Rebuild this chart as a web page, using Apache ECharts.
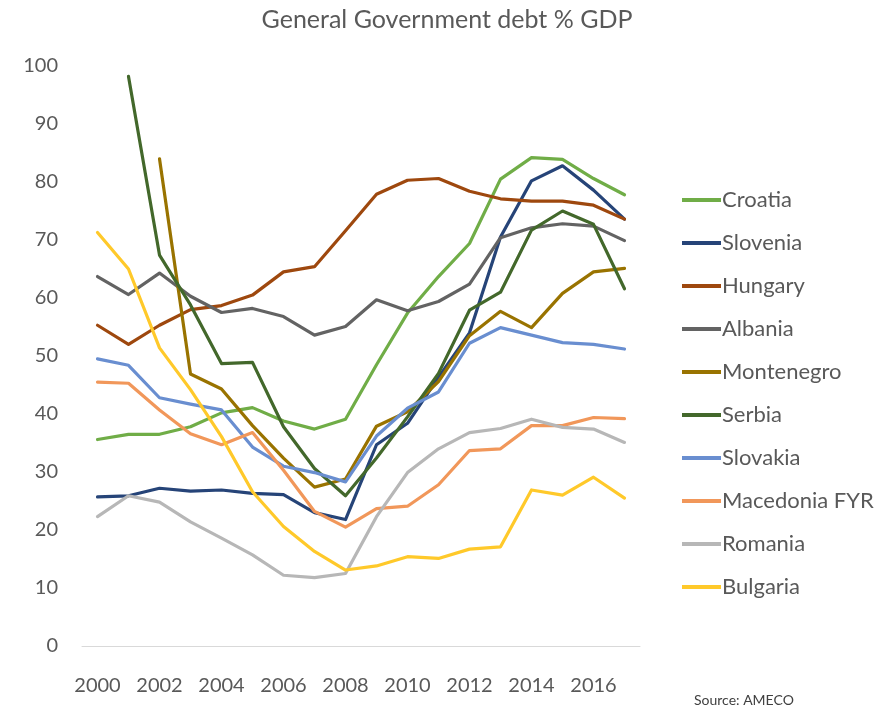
<!DOCTYPE html>
<html>
<head>
<meta charset="utf-8">
<script src="https://cdn.jsdelivr.net/npm/echarts@6/dist/echarts.min.js"></script>
<style>html,body{margin:0;padding:0;background:#fff}#c{width:894px;height:707px}</style>
</head>
<body>
<div id="c"></div>
<script>
var years = ['2000','2001','2002','2003','2004','2005','2006','2007','2008','2009','2010','2011','2012','2013','2014','2015','2016','2017'];
var croatia    = [35.6,36.5,36.5,37.8,40.2,41.1,38.8,37.4,39.1,48.5,57.4,63.7,69.4,80.5,84.2,83.9,80.6,77.8];
var slovenia   = [25.7,25.9,27.2,26.7,26.9,26.3,26.1,23.0,21.8,34.7,38.4,46.3,54.0,70.5,80.2,82.8,78.6,73.6];
var hungary    = [55.3,52.0,55.3,58.0,58.7,60.5,64.5,65.4,71.6,77.9,80.3,80.6,78.4,77.1,76.7,76.7,76.0,73.6];
var albania    = [63.7,60.6,64.3,60.3,57.5,58.2,56.8,53.6,55.1,59.7,57.8,59.4,62.4,70.4,72.1,72.8,72.4,69.9];
var montenegro = [null,null,84.0,46.9,44.3,38.0,32.4,27.4,28.8,37.9,40.4,45.6,53.5,57.7,54.9,60.8,64.5,65.1];
var serbia     = [null,98.2,67.4,58.8,48.7,48.9,37.8,30.6,25.9,32.4,39.5,47.0,57.9,61.0,71.7,75.0,72.7,61.6];
var slovakia   = [49.5,48.4,42.8,41.7,40.7,34.3,31.0,29.9,28.3,36.2,41.0,43.8,52.2,54.9,53.6,52.3,52.0,51.2];
var macedonia  = [45.5,45.3,40.7,36.6,34.7,36.8,30.3,23.2,20.5,23.7,24.1,27.8,33.7,34.0,38.0,38.0,39.4,39.2];
var romania    = [22.3,25.9,24.8,21.4,18.6,15.7,12.2,11.8,12.5,22.3,29.9,34.0,36.8,37.5,39.1,37.7,37.4,35.1];
var bulgaria   = [71.3,65.0,51.4,44.2,36.1,26.6,20.6,16.3,13.1,13.8,15.4,15.1,16.7,17.1,26.9,26.0,29.1,25.5];

var names  = ['Croatia','Slovenia','Hungary','Albania','Montenegro','Serbia','Slovakia','Macedonia FYR','Romania','Bulgaria'];
var values = [croatia,slovenia,hungary,albania,montenegro,serbia,slovakia,macedonia,romania,bulgaria];
var colors = ['#70AD47','#264478','#9E480E','#636363','#997300','#43682B','#698ED0','#F1975A','#B7B7B7','#FFC92A'];

var FONT = 'Lato';
var chart = echarts.init(document.getElementById('c'), null, {renderer:'canvas'});
var series = names.map(function(n,i){
  return {name:n,type:'line',data:values[i],symbol:'none',connectNulls:false,
    lineStyle:{width:3.2,color:colors[i],cap:'round',join:'round'},itemStyle:{color:colors[i]},z:2+i*0.01};
});
chart.setOption({
  animation:false,
  backgroundColor:'#ffffff',
  title:[{text:'General Government debt % GDP',left:'center',top:2,
    textStyle:{fontFamily:FONT,fontSize:25,fontWeight:'normal',color:'#595959'}},
    {text:'Source: AMECO',left:689,top:688,textStyle:{fontFamily:FONT,fontSize:14,fontWeight:'normal',color:'#404040'}}],
  legend:{orient:'vertical',left:677,top:183,itemWidth:39,itemHeight:4,itemGap:19,icon:'rect',
    textStyle:{fontFamily:FONT,fontSize:22,color:'#595959',padding:[0,0,0,-4],lineHeight:24},
    data:names},
  grid:{left:82,right:254,top:66,bottom:61,containLabel:false},
  xAxis:{type:'category',data:years,boundaryGap:true,
    axisLine:{lineStyle:{color:'#D9D9D9',width:1}},axisTick:{show:false},
    axisLabel:{interval:1,margin:30,fontFamily:FONT,fontSize:20,color:'#595959'}},
  yAxis:{type:'value',min:0,max:100,interval:10,
    axisLine:{show:false},axisTick:{show:false},splitLine:{show:false},
    axisLabel:{margin:24,fontFamily:FONT,fontSize:20,color:'#595959'}},
  series:series
});
</script>
</body>
</html>
